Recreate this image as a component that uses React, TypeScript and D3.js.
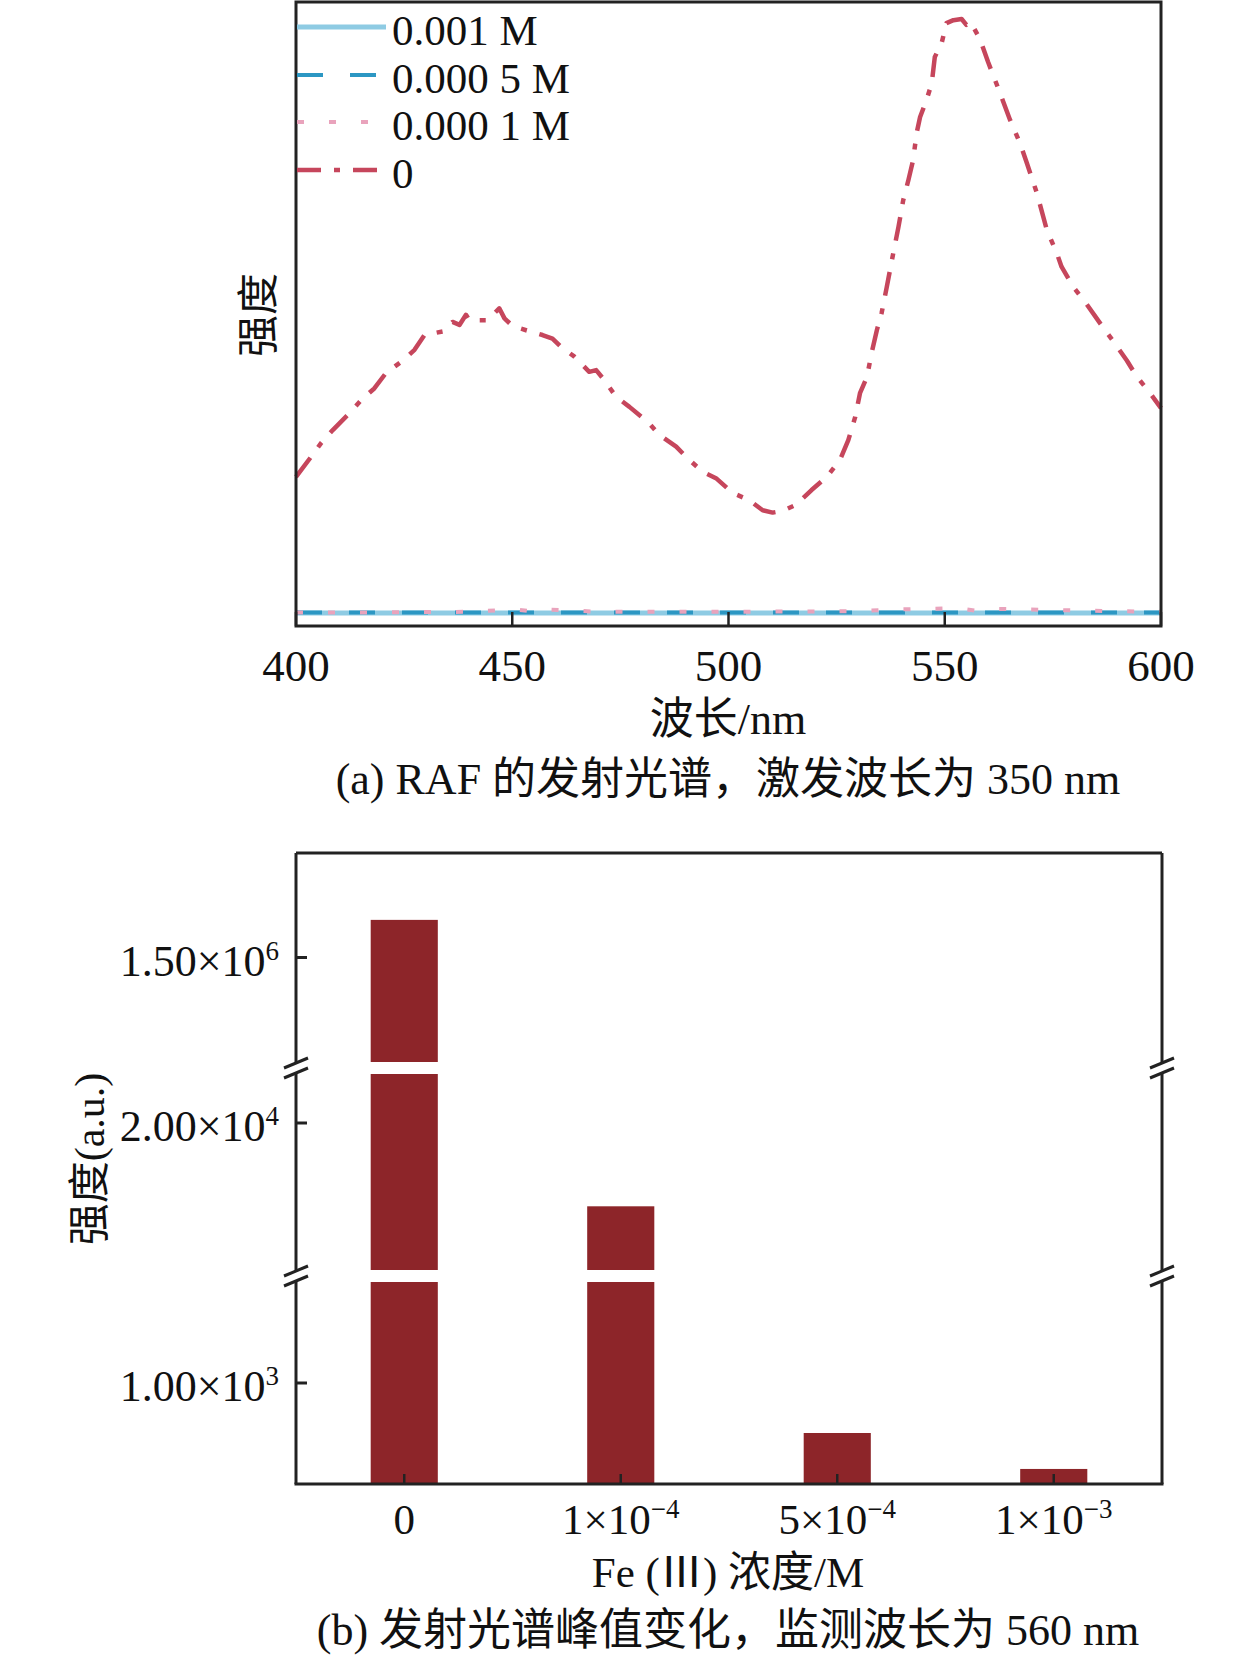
import React from 'react';
import * as d3 from 'd3';

// (a) emission spectrum, Fe(III) = 0
const wavelength0 = [400, 403.5, 405.8, 408.5, 412.7, 415.4, 418.1, 420.8, 424.7, 427.4, 429.7, 433.9, 436.2, 437.8, 439.3, 440.1, 444.3, 447, 448.2, 450.1, 453.2, 457, 459.3, 461.3, 464.3, 467.8, 469.4, 471.3, 474, 477.1, 481.7, 484, 487.9, 490.6, 494, 497.1, 501, 504.8, 507.9, 510.2, 512.5, 515.6, 519.2, 522.7, 525.8, 527.7, 529.3, 530.4, 532, 533.1, 534.3, 535.4, 536.6, 538.1, 539.3, 540.4, 541.6, 542.7, 543.5, 544.3, 545.8, 547, 547.7, 549.3, 550.4, 552, 553.9, 555, 556, 558.2, 560, 562.8, 565.1, 567.4, 569, 571.3, 573.6, 575.9, 577, 579.7, 582.8, 585.9, 588.9, 592.1, 594.4, 597.5, 600];
const intensity0 = [0.229, 0.263, 0.286, 0.308, 0.339, 0.361, 0.378, 0.404, 0.425, 0.443, 0.468, 0.474, 0.49, 0.485, 0.502, 0.493, 0.493, 0.513, 0.496, 0.483, 0.476, 0.468, 0.462, 0.448, 0.432, 0.406, 0.409, 0.392, 0.364, 0.347, 0.319, 0.3, 0.28, 0.26, 0.238, 0.227, 0.202, 0.19, 0.173, 0.169, 0.172, 0.182, 0.207, 0.229, 0.258, 0.291, 0.33, 0.37, 0.397, 0.438, 0.476, 0.505, 0.549, 0.606, 0.65, 0.695, 0.729, 0.763, 0.808, 0.835, 0.864, 0.892, 0.936, 0.96, 0.993, 0.998, 1.0, 0.99, 0.995, 0.965, 0.928, 0.875, 0.83, 0.791, 0.757, 0.707, 0.645, 0.606, 0.583, 0.549, 0.52, 0.488, 0.458, 0.425, 0.398, 0.37, 0.345];

// quenched spectra, flat on the baseline
const wavelengthFlat = [400, 450, 500, 550, 600];
const intensity1e3 = [0.0, 0.0, 0.0, 0.0, 0.0];
const intensity5e4 = [0.001, 0.001, 0.001, 0.001, 0.001];
const wavelength1e4 = [400, 420, 440, 451, 455, 458, 470, 500, 530, 539, 546, 553, 557, 561, 568, 575, 583, 590, 600];
const intensity1e4 = [0.001, 0.001, 0.002, 0.006, 0.002, 0.006, 0.002, 0.002, 0.003, 0.006, 0.007, 0.008, 0.004, 0.007, 0.006, 0.005, 0.004, 0.003, 0.002];

const legendLabels = ['0.001 M', '0.000 5 M', '0.000 1 M', '0'];
const wavelengthTicks = [400, 450, 500, 550, 600];

// (b) peak intensity at 560 nm
const concLabels = ['0', '1×10', '5×10', '1×10'];
const concExponents = ['', '−4', '−4', '−3'];
const peakValues = [1.68e6, 11500, 505, 149];
const yTickValues = [1.5e6, 2.0e4, 1.0e3];
const yTickBases = ['1.50×10', '2.00×10', '1.00×10'];
const yTickExponents = ['6', '4', '3'];

const FONT = "'Liberation Serif', 'Noto Sans CJK SC', serif";
const AXIS = '#222';
const INK = '#111';

const App: React.FC = () => {
    // ---------- panel (a) ----------
    const aLeft = 296, aRight = 1161, aTop = 2, aBottom = 626;
    const x = d3.scaleLinear().domain([400, 600]).range([aLeft, aRight]);
    const y = d3.scaleLinear().domain([0, 1]).range([613, 19]);
    const line = d3.line<[number, number]>().x(d => x(d[0])).y(d => y(d[1]));

    const series = [
        { pts: d3.zip(wavelengthFlat, intensity1e3) as [number, number][], color: '#8ecbe3', width: 5, dash: '' },
        { pts: d3.zip(wavelengthFlat, intensity5e4) as [number, number][], color: '#2c97c3', width: 4, dash: '26 27' },
        { pts: d3.zip(wavelength1e4, intensity1e4) as [number, number][], color: '#e9a3bc', width: 4, dash: '7 25' },
        { pts: d3.zip(wavelength0, intensity0) as [number, number][], color: '#c6465c', width: 4.5, dash: '24 13 6 13' },
    ];
    const legendY = [27, 75, 122, 170];

    // ---------- panel (b) ----------
    const bLeft = 296, bRight = 1162, bTop = 853, bBottom = 1484;
    const breaks = [[1062, 1074], [1270, 1282]];
    const yLow = d3.scaleLinear().domain([0, 2000]).range([bBottom, 1282]);
    const yMid = d3.scaleLinear().domain([5000, 25000]).range([1270, 1074]);
    const yHigh = d3.scaleLinear().domain([1.0e6, 2.0e6]).range([1062, bTop]);
    const yb = (v: number) => (v <= 2000 ? yLow(v) : v <= 25000 ? yMid(v) : yHigh(v));
    const xb = d3.scaleBand<string>()
        .domain(concLabels.map((d, i) => d + concExponents[i] + i))
        .range([bLeft, bRight])
        .paddingInner(0.69)
        .paddingOuter(0.345);
    const bandKeys = xb.domain();

    const axisSegments = [
        [bTop, breaks[0][0] + 1],
        [breaks[0][1] - 1, breaks[1][0] + 1],
        [breaks[1][1] - 1, bBottom],
    ];

    return (
        <svg width={1259} height={1662} style={{ position: 'absolute', left: 0, top: 0, background: '#fff' }} fontFamily={FONT}>
            {/* panel (a) */}
            {series.map((s, i) => (
                <path key={i} d={line(s.pts) || ''} fill="none" stroke={s.color} strokeWidth={s.width}
                    strokeDasharray={s.dash || undefined} strokeLinejoin="round" />
            ))}
            <rect x={aLeft} y={aTop} width={aRight - aLeft} height={aBottom - aTop} fill="none" stroke={AXIS} strokeWidth={3} />
            {wavelengthTicks.map(t => (
                <g key={t}>
                    <line x1={x(t)} x2={x(t)} y1={aBottom} y2={aBottom - 14} stroke={AXIS} strokeWidth={2.5} />
                    <text x={x(t)} y={681} textAnchor="middle" fontSize={45} fontFamily="'Liberation Serif', serif" fill={INK}>{t}</text>
                </g>
            ))}
            {legendLabels.map((lab, i) => (
                <g key={lab}>
                    <line x1={aLeft + 1} x2={386} y1={legendY[i]} y2={legendY[i]} stroke={series[i].color}
                        strokeWidth={series[i].width} strokeDasharray={series[i].dash || undefined} />
                    <text x={392} y={legendY[i] + 18} fontSize={43} fontFamily="'Liberation Serif', serif" fill={INK}>{lab}</text>
                </g>
            ))}
            <text transform="translate(259,315) rotate(-90)" textAnchor="middle" dominantBaseline="central" fontSize={42} fill={INK}>强度</text>
            <text x={728} y={734} textAnchor="middle" fontSize={44} fill={INK}>波长/nm</text>
            <text x={728} y={794} textAnchor="middle" fontSize={44} fill={INK}>(a) RAF 的发射光谱，激发波长为 350 nm</text>

            {/* panel (b) */}
            {peakValues.map((v, i) => (
                <rect key={i} x={xb(bandKeys[i])} y={yb(v)} width={xb.bandwidth()} height={bBottom - yb(v)} fill="#8d2529" />
            ))}
            {breaks.map((b, i) => (
                <rect key={i} x={bLeft + 2} y={b[0]} width={bRight - bLeft - 4} height={b[1] - b[0]} fill="#fff" />
            ))}
            <line x1={bLeft} x2={bRight} y1={bTop} y2={bTop} stroke={AXIS} strokeWidth={3} />
            <line x1={bLeft - 1.5} x2={bRight + 1.5} y1={bBottom} y2={bBottom} stroke={AXIS} strokeWidth={3} />
            {[bLeft, bRight].map(ax => (
                <g key={ax}>
                    {axisSegments.map((s, i) => (
                        <line key={i} x1={ax} x2={ax} y1={s[0]} y2={s[1]} stroke={AXIS} strokeWidth={3} />
                    ))}
                    {breaks.map((b, i) => (
                        <g key={i}>
                            <line x1={ax - 12} x2={ax + 12} y1={b[0] + 6} y2={b[0] - 4} stroke={AXIS} strokeWidth={3} />
                            <line x1={ax - 12} x2={ax + 12} y1={b[1] + 4} y2={b[1] - 6} stroke={AXIS} strokeWidth={3} />
                        </g>
                    ))}
                </g>
            ))}
            {yTickValues.map((v, i) => (
                <g key={v}>
                    <line x1={bLeft} x2={bLeft + 11} y1={yb(v)} y2={yb(v)} stroke={AXIS} strokeWidth={3} />
                    <text x={279} y={yb(v) + 18} textAnchor="end" fontSize={44} fontFamily="'Liberation Serif', serif" fill={INK}>
                        {yTickBases[i]}
                        <tspan fontSize={27} dy={-16}>{yTickExponents[i]}</tspan>
                    </text>
                </g>
            ))}
            {bandKeys.map((k, i) => {
                const cx = (xb(k) || 0) + xb.bandwidth() / 2;
                return (
                    <g key={k}>
                        <line x1={cx} x2={cx} y1={bBottom} y2={bBottom - 10} stroke={AXIS} strokeWidth={2.5} />
                        <text x={cx} y={1534} textAnchor="middle" fontSize={43} fontFamily="'Liberation Serif', serif" fill={INK}>
                            {concLabels[i]}
                            {concExponents[i] && <tspan fontSize={27} dy={-16}>{concExponents[i]}</tspan>}
                        </text>
                    </g>
                );
            })}
            <text transform="translate(90,1159) rotate(-90)" textAnchor="middle" dominantBaseline="central" fontSize={42} fill={INK}>强度(a.u.)</text>
            <text x={728} y={1587} textAnchor="middle" fontSize={43} fill={INK}>Fe (Ⅲ) 浓度/M</text>
            <text x={728} y={1645} textAnchor="middle" fontSize={44} fill={INK}>(b) 发射光谱峰值变化，监测波长为 560 nm</text>
        </svg>
    );
};

export default App;
